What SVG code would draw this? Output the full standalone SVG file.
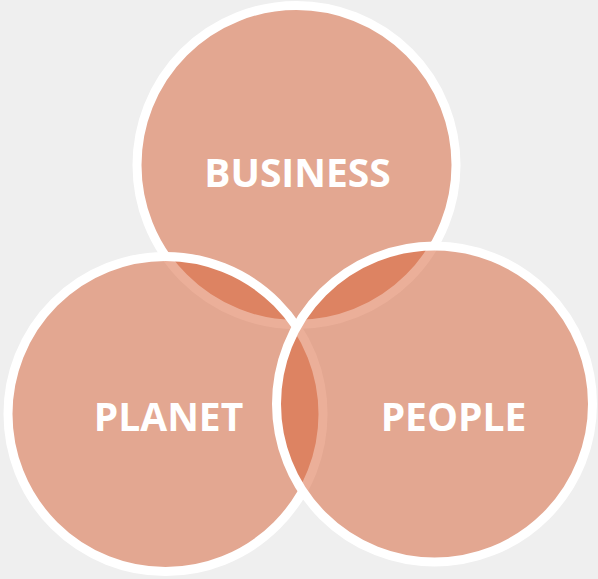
<svg xmlns="http://www.w3.org/2000/svg" width="598" height="579" viewBox="0 0 598 579">
  <style>
    .c { fill: #d75f33; fill-opacity: 0.5; stroke: #ffffff; stroke-width: 9; }
    .t { font-family: "Open Sans", "Liberation Sans", sans-serif; font-weight: 700; font-size: 39px; fill: #ffffff; text-anchor: middle; }
  </style>
  <rect x="0" y="0" width="598" height="579" fill="#efefef"/>
  <g id="connectors"></g>
  <g id="business">
    <circle class="c" cx="296.5" cy="165" r="159.5"/>
    <text class="t" x="297.5" y="187">BUSINESS</text>
  </g>
  <g id="planet">
    <circle class="c" cx="165.5" cy="414" r="157.5"/>
    <text class="t" x="168.5" y="431">PLANET</text>
  </g>
  <g id="people">
    <circle class="c" cx="434.5" cy="404" r="158"/>
    <text class="t" x="453.5" y="431">PEOPLE</text>
  </g>
</svg>
